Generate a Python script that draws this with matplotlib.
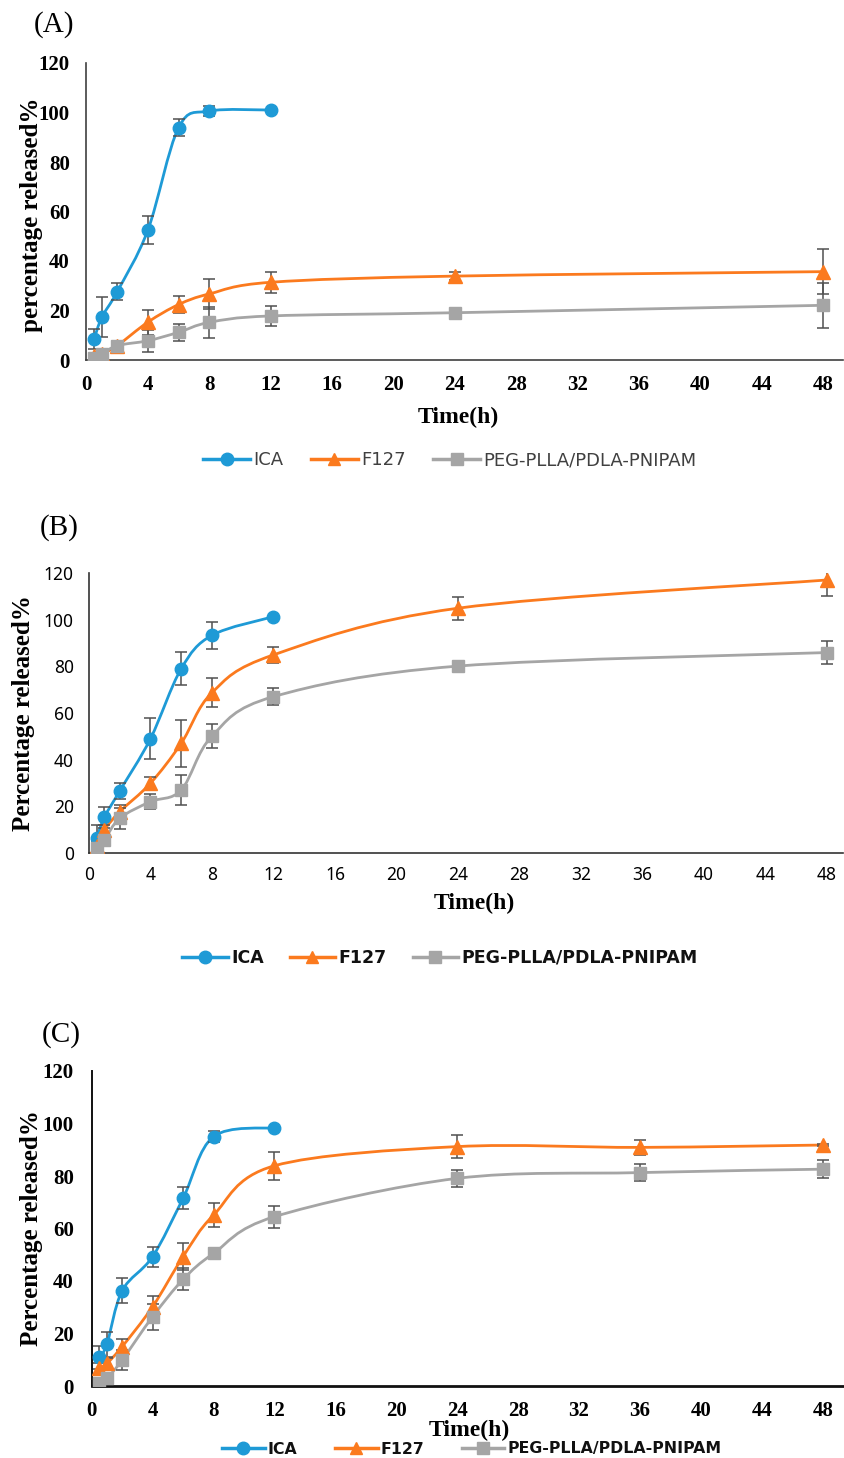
import numpy as np
import matplotlib.pyplot as plt
from matplotlib.path import Path
from matplotlib.patches import PathPatch
from matplotlib.lines import Line2D

# ---------------- data ----------------
t_ica = [0.5, 1, 2, 4, 6, 8, 12]
t_ab = [0.5, 1, 2, 4, 6, 8, 12, 24, 48]
t_c = [0.5, 1, 2, 4, 6, 8, 12, 24, 36, 48]

# (A)
a_ica = [8.5, 17.3, 27.6, 52.5, 93.9, 100.6, 101.0]
a_ica_err = [4.0, 8.0, 3.5, 5.5, 3.5, 2.0, 0.0]
a_f127 = [1.5, 2.5, 5.8, 15.3, 22.4, 26.7, 31.4, 33.9, 35.7]
a_f127_err = [1.0, 1.5, 1.5, 5.0, 3.6, 6.0, 4.3, 1.5, 9.0]
a_peg = [1.0, 2.4, 5.8, 7.8, 11.2, 15.2, 17.8, 19.1, 22.1]
a_peg_err = [1.0, 1.0, 1.5, 4.5, 3.5, 6.3, 4.2, 1.0, 9.0]

# (B)
b_ica = [6.3, 15.3, 26.6, 49.0, 79.0, 93.3, 101.3]
b_ica_err = [5.7, 4.6, 3.5, 8.7, 7.0, 5.7, 0.0]
b_f127 = [3.0, 9.9, 17.7, 29.9, 47.0, 68.7, 84.9, 104.9, 117.0]
b_f127_err = [2.0, 2.0, 3.0, 2.8, 10.0, 6.2, 3.6, 5.0, 6.7]
b_peg = [2.0, 5.6, 14.9, 22.0, 27.0, 50.1, 67.0, 80.1, 85.9]
b_peg_err = [1.5, 2.0, 4.5, 3.3, 6.4, 5.2, 3.6, 1.5, 5.0]

# (C)
c_ica = [10.9, 15.9, 36.3, 49.3, 71.5, 95.0, 98.4]
c_ica_err = [4.3, 4.8, 4.7, 3.8, 4.2, 2.1, 0.0]
c_f127 = [6.7, 8.6, 15.0, 30.2, 49.3, 65.1, 83.9, 91.2, 90.9, 91.8]
c_f127_err = [2.0, 2.0, 2.8, 4.1, 5.0, 4.5, 5.3, 4.4, 2.8, 0.5]
c_peg = [1.0, 2.9, 9.9, 26.4, 40.6, 50.5, 64.5, 79.1, 81.3, 82.6]
c_peg_err = [1.0, 1.5, 3.8, 5.0, 4.2, 1.0, 4.2, 3.2, 3.3, 3.5]

labels = ["ICA", "F127", "PEG-PLLA/PDLA-PNIPAM"]
colors = ["#1e9ad6", "#fb7a1e", "#a5a5a5"]
markers = ["o", "^", "s"]
x_ticks = [0, 4, 8, 12, 16, 20, 24, 28, 32, 36, 40, 44, 48]
y_ticks = [0, 20, 40, 60, 80, 100, 120]

SERIF = "Liberation Serif"
SANS = "Noto Sans"
LEGSANS = "DejaVu Sans"


def smooth_path(x, y):
    # Excel-like smoothed line: cardinal (Catmull-Rom) bezier segments
    p = np.column_stack([x, y]).astype(float)
    n = len(p)
    verts = [p[0]]
    codes = [Path.MOVETO]
    for i in range(n - 1):
        p0 = p[i - 1] if i > 0 else p[i]
        p3 = p[i + 2] if i + 2 < n else p[i + 1]
        c1 = p[i] + (p[i + 1] - p0) / 6.0
        c2 = p[i + 1] - (p3 - p[i]) / 6.0
        verts += [c1, c2, p[i + 1]]
        codes += [Path.CURVE4] * 3
    return Path(verts, codes)


def draw_panel(rect, xmax, series, spine_col, spine_lw):
    ax = fig.add_axes(rect)
    for (x, y, e), col, mk in zip(series, colors, markers):
        ax.add_patch(PathPatch(smooth_path(x, y), fill=False, edgecolor=col,
                               lw=2.0, capstyle="round", zorder=2))
        ax.errorbar(x, y, yerr=e, fmt="none", ecolor="#505050", elinewidth=1.1,
                    capsize=4, capthick=1.1, zorder=3)
        ax.plot(x, y, linestyle="none", marker=mk, ms=9 if mk != "^" else 9.5,
                color=col, mec=col, zorder=4)
    ax.set_xlim(0, xmax)
    ax.set_ylim(0, 120)
    ax.set_xticks(x_ticks)
    ax.set_yticks(y_ticks)
    for s in ["top", "right"]:
        ax.spines[s].set_visible(False)
    for s in ["left", "bottom"]:
        ax.spines[s].set_color(spine_col)
        ax.spines[s].set_linewidth(spine_lw)
    ax.tick_params(length=0)
    return ax


fig = plt.figure(figsize=(8.45, 14.58), dpi=100)
W, H = 845.0, 1458.0


def frac_rect(left, right, bottom, top):
    return [left / W, 1 - bottom / H, (right - left) / W, (bottom - top) / H]


# ---------- panel A ----------
axA = draw_panel(frac_rect(86.5, 843, 360, 63), 757 / 15.36,
                 [(t_ica, a_ica, a_ica_err), (t_ab, a_f127, a_f127_err), (t_ab, a_peg, a_peg_err)],
                 "#404040", 1.2)
axA.tick_params(axis="y", pad=12)
axA.tick_params(axis="x", pad=11)
for lb in axA.get_xticklabels() + axA.get_yticklabels():
    lb.set_fontfamily(SERIF)
    lb.set_fontweight("bold")
    lb.set_fontsize(15)

# ---------- panel B ----------
axB = draw_panel(frac_rect(89, 843, 853, 573), 754 / 15.37,
                 [(t_ica, b_ica, b_ica_err), (t_ab, b_f127, b_f127_err), (t_ab, b_peg, b_peg_err)],
                 "#333333", 1.2)
axB.tick_params(axis="y", pad=11)
axB.tick_params(axis="x", pad=9)
for lb in axB.get_xticklabels() + axB.get_yticklabels():
    lb.set_fontfamily(SANS)
    lb.set_fontsize(12.5)

# ---------- panel C ----------
axC = draw_panel(frac_rect(91.7, 843, 1386, 1071), 751.3 / 15.23,
                 [(t_ica, c_ica, c_ica_err), (t_c, c_f127, c_f127_err), (t_c, c_peg, c_peg_err)],
                 "#111111", 1.4)
axC.spines["bottom"].set_linewidth(2.0)
axC.tick_params(axis="y", pad=13)
axC.tick_params(axis="x", pad=11)
for lb in axC.get_xticklabels() + axC.get_yticklabels():
    lb.set_fontfamily(SERIF)
    lb.set_fontweight("bold")
    lb.set_fontsize(15)


def ftext(x, y, s, **kw):
    fig.text(x / W, 1 - y / H, s, ha="center", va="center", **kw)


# panel letters
ftext(54, 25, "(A)", family=SERIF, fontsize=21)
ftext(59, 528, "(B)", family=SERIF, fontsize=21)
ftext(61, 1035, "(C)", family=SERIF, fontsize=21)

# y labels
ftext(32, 215, "percentage released%", family=SERIF, fontweight="bold", fontsize=18, rotation=90)
ftext(24, 713, "Percentage released%", family=SERIF, fontweight="bold", fontsize=18, rotation=90)
ftext(32, 1228, "Percentage released%", family=SERIF, fontweight="bold", fontsize=18, rotation=90)

# x labels
ftext(458, 417, "Time(h)", family=SERIF, fontweight="bold", fontsize=17)
ftext(474, 903, "Time(h)", family=SERIF, fontweight="bold", fontsize=17)
ftext(469, 1430, "Time(h)", family=SERIF, fontweight="bold", fontsize=17)

# legends
handles = [Line2D([], [], color=c, marker=m, lw=2.5, ms=9) for c, m in zip(colors, markers)]


def add_legend(cx, cy, weight, tcolor, size, colsp, hlen):
    leg = fig.legend(handles, labels, loc="center", bbox_to_anchor=(cx / W, 1 - cy / H),
                     ncol=3, frameon=False, handlelength=hlen, handletextpad=0.2,
                     columnspacing=colsp,
                     prop={"family": LEGSANS, "size": size, "weight": weight})
    for t in leg.get_texts():
        t.set_color(tcolor)


add_legend(450, 460, "normal", "#404040", 13, 1.5, 2.6)
add_legend(440, 958, "bold", "#111111", 12.5, 1.5, 2.6)
add_legend(472, 1449, "bold", "#111111", 11.3, 2.4, 2.7)

fig.savefig("out.png", dpi=100)
